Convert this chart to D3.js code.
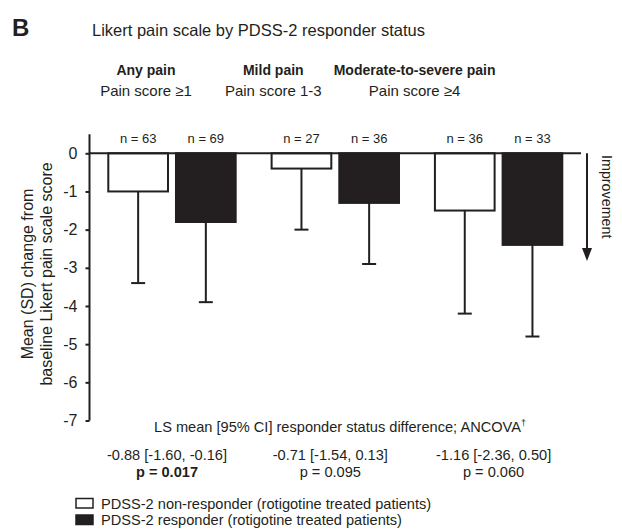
<!DOCTYPE html>
<html>
<head>
<meta charset="utf-8">
<script src="https://cdn.jsdelivr.net/npm/d3@7/dist/d3.min.js"></script>
<style>
  body { margin: 0; background: #fff; }
  svg text { font-family: "Liberation Sans", Arial, Helvetica, sans-serif; fill: #231f20; }
</style>
</head>
<body>
<div id="chart"></div>
<script>
////////////////////
// DATA
var groups = ["Any pain", "Mild pain", "Moderate-to-severe pain"];
var groupSub = ["Pain score \u22651", "Pain score 1-3", "Pain score \u22654"];
var series = ["PDSS-2 non-responder (rotigotine treated patients)", "PDSS-2 responder (rotigotine treated patients)"];
var nonResponderMean = [-1.0, -0.4, -1.5];
var nonResponderSD = [2.4, 1.6, 2.7];
var responderMean = [-1.8, -1.3, -2.4];
var responderSD = [2.1, 1.6, 2.4];
var nonResponderN = [63, 27, 36];
var responderN = [69, 36, 33];
var lsMean = ["-0.88 [-1.60, -0.16]", "-0.71 [-1.54, 0.13]", "-1.16 [-2.36, 0.50]"];
var pValues = ["p = 0.017", "p = 0.095", "p = 0.060"];
var pBold = [true, false, false];
var yTicks = [0, -1, -2, -3, -4, -5, -6, -7];

//////////////////
// LAYOUT
var w = 622, h = 530;
var axisX = 89.5;
var ink = "#231f20";

var svg = d3.select("#chart").append("svg")
  .attr("width", w)
  .attr("height", h);

var y = d3.scaleLinear()
  .domain([-7, 0.5])
  .range([420.5, 134.2]);

var x0 = d3.scaleBand()
  .domain(groups)
  .range([108.3, 562.3])
  .paddingInner(0.22)
  .paddingOuter(0);

var x1 = d3.scaleBand()
  .domain(series)
  .range([0, x0.bandwidth()])
  .paddingInner(0.118)
  .paddingOuter(0);

var rows = [];
groups.forEach(function(g, i) {
  rows.push({g: g, s: series[0], mean: nonResponderMean[i], sd: nonResponderSD[i], n: nonResponderN[i], fill: "#fff"});
  rows.push({g: g, s: series[1], mean: responderMean[i], sd: responderSD[i], n: responderN[i], fill: ink});
});

//////////////////
// HEADINGS
svg.append("text")
  .attr("x", 12).attr("y", 36)
  .style("font-size", "24px").style("font-weight", "bold")
  .text("B");
svg.append("text")
  .attr("x", 92).attr("y", 36)
  .style("font-size", "16.5px")
  .text("Likert pain scale by PDSS-2 responder status");

var labelShift = [-26, -62, -84];
groups.forEach(function(g, i) {
  var cx = x0(g) + x0.bandwidth() / 2 + labelShift[i];
  svg.append("text")
    .attr("x", cx).attr("y", 75)
    .attr("text-anchor", "middle")
    .style("font-size", "14px").style("font-weight", "bold")
    .text(g);
  svg.append("text")
    .attr("x", cx).attr("y", 96)
    .attr("text-anchor", "middle")
    .style("font-size", "15px")
    .text(groupSub[i]);
});

//////////////////
// BARS
var bars = svg.append("g");
bars.selectAll("rect")
  .data(rows)
  .enter().append("rect")
  .attr("x", function(d) { return x0(d.g) + x1(d.s); })
  .attr("y", y(0))
  .attr("width", x1.bandwidth())
  .attr("height", function(d) { return y(d.mean) - y(0); })
  .attr("fill", function(d) { return d.fill; })
  .attr("stroke", ink)
  .attr("stroke-width", 2);

// error bars (downward SD)
var err = svg.append("g").attr("stroke", ink).attr("stroke-width", 2);
rows.forEach(function(d) {
  var cx = x0(d.g) + x1(d.s) + x1.bandwidth() / 2;
  err.append("line")
    .attr("x1", cx).attr("x2", cx)
    .attr("y1", y(d.mean)).attr("y2", y(d.mean - d.sd));
  err.append("line")
    .attr("x1", cx - 7).attr("x2", cx + 7)
    .attr("y1", y(d.mean - d.sd)).attr("y2", y(d.mean - d.sd));
});

// n labels
svg.append("g").selectAll("text")
  .data(rows)
  .enter().append("text")
  .attr("x", function(d) { return x0(d.g) + x1(d.s) + x1.bandwidth() / 2; })
  .attr("y", 143)
  .attr("text-anchor", "middle")
  .style("font-size", "13px")
  .text(function(d) { return "n = " + d.n; });

//////////////////
// AXES
svg.append("line")
  .attr("x1", axisX).attr("x2", 581)
  .attr("y1", y(0)).attr("y2", y(0))
  .attr("stroke", ink).attr("stroke-width", 2);

var yAxis = svg.append("g")
  .attr("transform", "translate(" + axisX + ",0)")
  .call(d3.axisLeft(y).tickValues(yTicks).tickSize(4).tickPadding(8)
    .tickFormat(function(d) { return String(d); }));
yAxis.select(".domain").attr("d", "M0," + y(0.5) + "V" + y(-7))
  .attr("stroke", ink).attr("stroke-width", 2);
yAxis.selectAll(".tick line").attr("stroke", ink).attr("stroke-width", 2);
yAxis.selectAll(".tick text")
  .style("font-size", "16px")
  .style("font-family", "'Liberation Sans', Arial, sans-serif")
  .attr("fill", ink);

var yLab = svg.append("text")
  .attr("transform", "translate(0," + 274 + ") rotate(-90)")
  .attr("text-anchor", "middle")
  .style("font-size", "16px");
yLab.append("tspan").attr("x", 0).attr("y", 33).text("Mean (SD) change from");
yLab.append("tspan").attr("x", 0).attr("y", 52).text("baseline Likert pain scale score");

// improvement arrow
svg.append("line")
  .attr("x1", 587).attr("x2", 587)
  .attr("y1", y(0)).attr("y2", 250)
  .attr("stroke", ink).attr("stroke-width", 2);
svg.append("path")
  .attr("d", "M582,248L592,248L587,261Z")
  .attr("fill", ink);
svg.append("text")
  .attr("transform", "translate(602,155) rotate(90)")
  .style("font-size", "14.3px")
  .text("Improvement");

//////////////////
// STATS
var lsText = svg.append("text")
  .attr("x", 340).attr("y", 432)
  .attr("text-anchor", "middle")
  .style("font-size", "14.6px")
  .text("LS mean [95% CI] responder status difference; ANCOVA");
lsText.append("tspan").attr("dy", -6).style("font-size", "9px").text("\u2020");

groups.forEach(function(g, i) {
  var cx = x0(g) + x0.bandwidth() / 2 - 5;
  svg.append("text")
    .attr("x", cx).attr("y", 460)
    .attr("text-anchor", "middle")
    .style("font-size", "14.6px")
    .text(lsMean[i]);
  svg.append("text")
    .attr("x", cx).attr("y", 477)
    .attr("text-anchor", "middle")
    .style("font-size", "14.6px")
    .style("font-weight", pBold[i] ? "bold" : "normal")
    .text(pValues[i]);
});

//////////////////
// LEGEND
var leg = svg.append("g").selectAll("g")
  .data(series)
  .enter().append("g")
  .attr("transform", function(d, i) { return "translate(75," + (498 + i * 16.5) + ")"; });
leg.append("rect")
  .attr("x", 1).attr("y", 0.5)
  .attr("width", 17).attr("height", 9.5)
  .attr("fill", function(d, i) { return i ? ink : "#fff"; })
  .attr("stroke", ink).attr("stroke-width", 1.5);
leg.append("text")
  .attr("x", 26).attr("y", 10.5)
  .style("font-size", "14.6px")
  .text(function(d) { return d; });
</script>
</body>
</html>
